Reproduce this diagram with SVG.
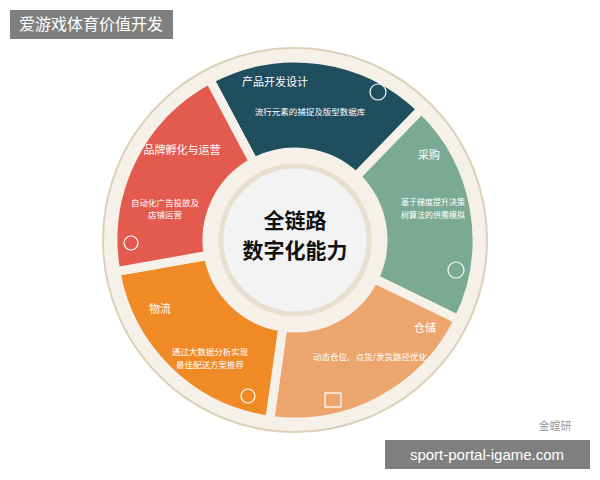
<svg xmlns="http://www.w3.org/2000/svg" width="600" height="480" viewBox="0 0 600 480">
<style>
text{font-family:"Noto Sans CJK SC","Liberation Sans",sans-serif;fill:#fff}
.t{font-size:11px}
.s{font-size:8.5px}
.seg{stroke:#f6f1e8;stroke-width:9;stroke-linejoin:round}
</style>
<rect width="600" height="480" fill="#fff"/>
<circle cx="295" cy="240" r="192" fill="#f6f1e8" stroke="#ddd0b8" stroke-width="2"/>
<g id="n1"><path class="seg" fill="#1f4e5f" d="M209.6,79.3 A182,182 0 0 1 421.4,109.1 L356.1,176.7 A88,88 0 0 0 253.7,162.3 Z"/>
<text class="t" x="275" y="86" text-anchor="middle">产品开发设计</text>
<text class="s" x="310" y="115" text-anchor="middle">流行元素的捕捉及版型数据库</text>
<circle cx="378" cy="92" r="8" fill="none" stroke="#fff" stroke-width="1.2"/></g>
<g id="n2"><path class="seg" fill="#7aaa96" d="M421.4,109.1 A182,182 0 0 1 458.6,319.8 L374.1,278.6 A88,88 0 0 0 356.1,176.7 Z"/>
<text class="t" x="429" y="159" text-anchor="middle">采购</text>
<text x="433" y="205" text-anchor="middle" style="font-size:8px">基于梯度提升决策</text>
<text x="433" y="218" text-anchor="middle" style="font-size:8px">树算法的供需模拟</text>
<circle cx="456" cy="270" r="8" fill="none" stroke="#fff" stroke-width="1.2"/></g>
<g id="n3"><path class="seg" fill="#eda56e" d="M458.6,319.8 A182,182 0 0 1 269.7,420.2 L282.8,327.1 A88,88 0 0 0 374.1,278.6 Z"/>
<text class="t" x="425" y="332" text-anchor="middle">仓储</text>
<text class="s" x="370" y="360" text-anchor="middle">动态仓位、点货/发货路径优化</text>
<rect x="325" y="393" width="16" height="14" fill="none" stroke="#fff" stroke-width="1.2"/></g>
<g id="n4"><path class="seg" fill="#ef8a25" d="M269.7,420.2 A182,182 0 0 1 115.8,271.6 L208.3,255.3 A88,88 0 0 0 282.8,327.1 Z"/>
<text class="t" x="160" y="313" text-anchor="middle">物流</text>
<text class="s" x="210" y="355" text-anchor="middle">通过大数据分析实现</text>
<text class="s" x="210" y="368" text-anchor="middle">最佳配送方案推荐</text>
<circle cx="248" cy="396" r="7" fill="none" stroke="#fff" stroke-width="1.2"/></g>
<g id="n5"><path class="seg" fill="#e35a4f" d="M115.8,271.6 A182,182 0 0 1 209.6,79.3 L253.7,162.3 A88,88 0 0 0 208.3,255.3 Z"/>
<text class="t" x="182" y="154" text-anchor="middle">品牌孵化与运营</text>
<text class="s" x="165" y="206" text-anchor="middle">自动化广告投放及</text>
<text class="s" x="165" y="218" text-anchor="middle">店铺运营</text>
<circle cx="131" cy="243" r="7" fill="none" stroke="#fff" stroke-width="1.2"/></g>
<g id="center"><circle cx="295" cy="240" r="74" fill="#f3f3f3" stroke="#e8dfcf" stroke-width="5"/>
<text x="295" y="228" text-anchor="middle" style="fill:#111;font-size:21px;font-weight:bold">全链路</text>
<text x="295" y="258" text-anchor="middle" style="fill:#111;font-size:21px;font-weight:bold">数字化能力</text></g>
<g id="connectors"/>
<text x="555" y="430" text-anchor="middle" style="fill:#999;font-size:11px">金螳研</text>
<rect x="10" y="10" width="163" height="29" fill="#7f7f7f"/>
<text x="91" y="30" text-anchor="middle" style="font-size:16px">爱游戏体育价值开发</text>
<rect x="385" y="440" width="205" height="29" fill="#7f7f7f"/>
<text x="487" y="460" text-anchor="middle" style="font-size:15px;font-family:'Liberation Sans',sans-serif">sport-portal-igame.com</text>
</svg>
